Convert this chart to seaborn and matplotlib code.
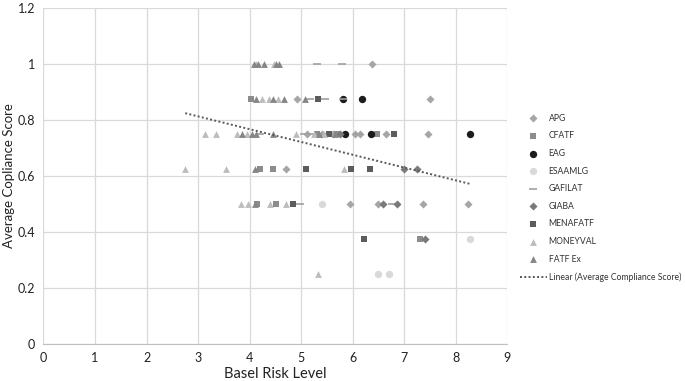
import numpy as np
import pandas as pd
import matplotlib.pyplot as plt
import seaborn as sns

# Basel risk level (x) and average compliance score (y) per assessment body
apg_x = [6.38, 4.92, 7.5, 5.11, 5.4, 5.62, 6.05, 6.15, 6.65, 7.47, 4.70, 5.94, 6.49, 7.36, 8.24]
apg_y = [1.0, 0.875, 0.875, 0.75, 0.75, 0.75, 0.75, 0.75, 0.75, 0.75, 0.625, 0.5, 0.5, 0.5, 0.5]

cfatf_x = [4.03, 5.3, 5.7, 6.47, 4.2, 4.46, 4.15, 4.51, 7.31]
cfatf_y = [0.875, 0.75, 0.75, 0.75, 0.625, 0.625, 0.5, 0.5, 0.375]

eag_x = [5.82, 6.19, 5.85, 6.35, 8.28]
eag_y = [0.875, 0.875, 0.75, 0.75, 0.75]

esaamlg_x = [5.41, 8.27, 6.5, 6.7]
esaamlg_y = [0.5, 0.375, 0.25, 0.25]

gafilat_x = [5.3, 5.8, 5.17, 5.47, 5.82, 4.2, 5.05, 5.2, 5.5, 6.1, 4.98, 6.76]
gafilat_y = [1.0, 1.0, 0.875, 0.875, 0.875, 0.75, 0.75, 0.75, 0.75, 0.75, 0.5, 0.5]

giaba_x = [5.75, 7.0, 7.25, 6.59, 6.86, 7.41]
giaba_y = [0.75, 0.625, 0.625, 0.5, 0.5, 0.375]

menafatf_x = [5.33, 5.55, 6.81, 5.09, 5.97, 6.34, 4.85, 6.22]
menafatf_y = [0.875, 0.75, 0.75, 0.625, 0.625, 0.625, 0.5, 0.375]

moneyval_x = [4.12, 4.48, 4.25, 4.37, 4.56, 3.13, 3.35, 3.75, 3.95, 4.9, 5.25, 5.45,
              2.75, 3.54, 5.83, 3.83, 3.96, 4.4, 4.71, 5.32]
moneyval_y = [1.0, 1.0, 0.875, 0.875, 0.875, 0.75, 0.75, 0.75, 0.75, 0.75, 0.75, 0.75,
              0.625, 0.625, 0.625, 0.5, 0.5, 0.5, 0.5, 0.25]

fatfex_x = [4.08, 4.17, 4.27, 4.52, 4.58, 4.13, 4.46, 4.66, 5.08, 3.85, 4.04, 4.13, 4.46, 5.35, 5.65, 4.1, 4.11]
fatfex_y = [1.0, 1.0, 1.0, 1.0, 1.0, 0.875, 0.875, 0.875, 0.875, 0.75, 0.75, 0.75, 0.75, 0.75, 0.75, 0.625, 0.5]

groups = [
    ("APG", apg_x, apg_y, "D", "#a6a6a6", 17),
    ("CFATF", cfatf_x, cfatf_y, "s", "#8c8c8c", 22),
    ("EAG", eag_x, eag_y, "o", "#1c1c1c", 28),
    ("ESAAMLG", esaamlg_x, esaamlg_y, "o", "#d9d9d9", 28),
    ("GAFILAT", gafilat_x, gafilat_y, "_", "#a0a0a0", 32),
    ("GIABA", giaba_x, giaba_y, "D", "#7a7a7a", 17),
    ("MENAFATF", menafatf_x, menafatf_y, "s", "#5c5c5c", 22),
    ("MONEYVAL", moneyval_x, moneyval_y, "^", "#bcbcbc", 24),
    ("FATF Ex", fatfex_x, fatfex_y, "^", "#858585", 24),
]

sns.set_style("white")
plt.rcParams['font.family'] = ['Lato', 'DejaVu Sans']

fig = plt.figure(figsize=(6.85, 3.81), dpi=100)
ax = fig.add_axes([0.0635, 0.097, 0.677, 0.882])

for name, xs, ys, mk, col, size in groups:
    sns.scatterplot(x=xs, y=ys, marker=mk, color=col, s=size, ax=ax,
                    linewidth=1.2 if mk == "_" else 0, label=name, legend=False)

# linear trend over all points
all_x = np.concatenate([g[1] for g in groups])
all_y = np.concatenate([g[2] for g in groups])
sns.regplot(x=all_x, y=all_y, scatter=False, ci=None, truncate=True, ax=ax,
            line_kws=dict(color="#595959", linestyle=(0, (1, 1.2)), linewidth=1.4),
            label="Linear (Average Compliance Score)")

ax.set_xlim(0, 9)
ax.set_ylim(0, 1.2)
ax.set_xticks(range(0, 10))
ax.set_yticks([0, 0.2, 0.4, 0.6, 0.8, 1.0, 1.2])
ax.set_yticklabels(["0", "0.2", "0.4", "0.6", "0.8", "1", "1.2"])
ax.grid(True, color="#d9d9d9", linewidth=0.9)
ax.set_axisbelow(True)
for side in ["top", "right", "left"]:
    ax.spines[side].set_visible(False)
ax.spines["bottom"].set_color("#bfbfbf")
ax.tick_params(axis="both", length=0, labelsize=9, labelcolor="#222222", pad=6)
ax.set_xlabel("Basel Risk Level", fontsize=10.5, color="#222222", labelpad=2)
ax.set_ylabel("Average Copliance Score", fontsize=9.5, color="#222222", labelpad=2)

handles, labels = ax.get_legend_handles_labels()
fig.legend(handles, labels, loc="upper left", bbox_to_anchor=(0.748, 0.722),
           frameon=False, fontsize=6.2, labelspacing=1.0, handlelength=3.1,
           handletextpad=0.2, labelcolor="#333333")

plt.savefig("out.png", dpi=100)
